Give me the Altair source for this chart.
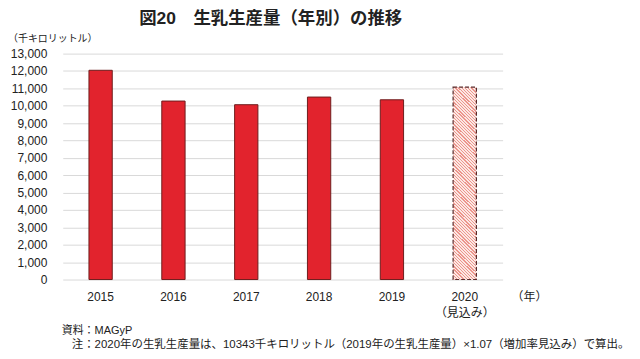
import altair as alt
import pandas as pd

years = ["2015", "2016", "2017", "2018", "2019", "2020"]
values = [12040, 10270, 10060, 10500, 10343, 11067]
estimate = [False, False, False, False, False, True]
y_ticks = list(range(0, 13001, 1000))

title_text = "図20　生乳生産量（年別）の推移"
y_unit = "（千キロリットル）"
x_unit = "（年）"
source_text = "資料：MAGyP"
note_text = "注：2020年の生乳生産量は、10343千キロリットル（2019年の生乳生産量）×1.07（増加率見込み）で算出。"

FONT = "Liberation Sans, Noto Sans CJK JP"

df = pd.DataFrame({"year": years, "value": values, "est": estimate})

# hatch-like fill for the estimated bar: striped linear gradient
n_stripes = 68
stops = []
light = "#fce8e4"
dark = "#ec968d"
for i in range(n_stripes):
    a = i / n_stripes
    b = (i + 0.6) / n_stripes
    c = (i + 1) / n_stripes
    stops += [
        alt.GradientStop(offset=a, color=light),
        alt.GradientStop(offset=b, color=light),
        alt.GradientStop(offset=b, color=dark),
        alt.GradientStop(offset=c, color=dark),
    ]
hatch = alt.LinearGradient(gradient="linear", stops=stops, x1=1, y1=0, x2=0.869, y2=1.1)

x_enc = alt.X(
    "year:N",
    sort=years,
    scale=alt.Scale(paddingInner=0.68, paddingOuter=0.36),
    axis=alt.Axis(
        title=None,
        labelAngle=0,
        labelPadding=12,
        labelFontSize=12,
        labelColor="#222222",
        labelFont=FONT,
        labelLineHeight=16,
        labelExpr="datum.value == '2020' ? ['2020', '（見込み）'] : datum.value",
        ticks=False,
        domain=False,
        grid=False,
    ),
)
y_enc = alt.Y(
    "value:Q",
    scale=alt.Scale(domain=[0, 13000], nice=False),
    axis=alt.Axis(
        title=None,
        values=y_ticks,
        format=",d",
        labelFontSize=12,
        labelColor="#222222",
        labelFont=FONT,
        labelPadding=16,
        ticks=False,
        domain=False,
        grid=True,
        gridColor="#d9d9d9",
        gridWidth=1,
    ),
)

base = alt.Chart(df)
actual = base.transform_filter("!datum.est").mark_bar(
    fill="#e2232d", stroke="#6e1d1d", strokeWidth=1
).encode(x=x_enc, y=y_enc)
est = base.transform_filter("datum.est").mark_bar(
    fill=hatch, stroke="#5a2a2a", strokeWidth=1.2, strokeDash=[4, 2]
).encode(x=x_enc, y=y_enc)


def label(text, x, y, size=11, align="left", weight="normal"):
    return alt.Chart(pd.DataFrame({"t": [text]})).mark_text(
        align=align, baseline="middle", fontSize=size, font=FONT,
        fontWeight=weight, color="#222222"
    ).encode(text="t:N", x=alt.value(x), y=alt.value(y))


chart = alt.layer(
    actual,
    est,
    label(title_text, 209, -35, size=17.5, align="center", weight="bold"),
    label(y_unit, -55, -15, size=10),
    label(x_unit, 469, 245, size=12, align="center"),
    label(source_text, -1, 279, size=11),
    label(note_text, 9, 293, size=11.5),
).properties(
    width=442,
    height=227,
    autosize=alt.AutoSizeParams(type="none"),
    padding={"left": 55, "top": 45, "right": 130, "bottom": 71},
).configure_view(stroke=None)

chart.save("out.html", embed_options={"renderer": "svg", "actions": False})
